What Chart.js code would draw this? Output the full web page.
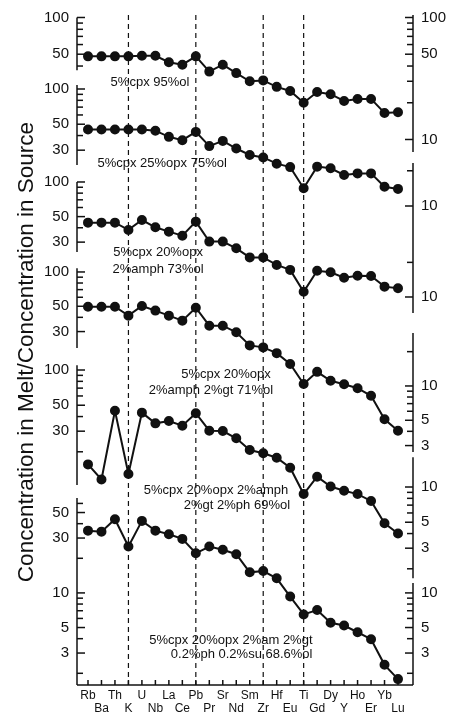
<!DOCTYPE html>
<html>
<head>
<meta charset="utf-8">
<script src="https://cdn.jsdelivr.net/npm/chart.js@4.4.0/dist/chart.umd.min.js"></script>
<style>
    html, body { margin: 0; padding: 0; background: #fff; overflow: hidden; }
    #wrap { width: 449px; height: 712px; position: relative; }
</style>
</head>
<body>
<div id="wrap"><canvas id="spider"></canvas></div>
<script>
/* categories (element order on the x axis) */
var elements = ['Rb', 'Ba', 'Th', 'K', 'U', 'Nb', 'La', 'Ce', 'Pb', 'Pr', 'Sr', 'Nd',
                'Sm', 'Zr', 'Hf', 'Eu', 'Ti', 'Gd', 'Dy', 'Y', 'Ho', 'Er', 'Yb', 'Lu'];
var dashedAt = ['K', 'Pb', 'Zr', 'Ti'];

/* melt / source ratios, one array per source mineralogy (top to bottom) */
var meltOl95  = [48, 48, 48, 48, 48.5, 48.5, 43, 41, 48, 36, 41, 35, 30, 30.5, 27, 25, 20, 24.5, 23.5, 20.7, 21.5, 21.5, 16.5, 16.7];
var meltOpx25 = [45, 45, 45, 45, 45, 44, 39, 36.5, 43, 32.5, 36, 31, 27.3, 26, 23, 21.5, 14.2, 21.7, 21, 18.4, 19, 19, 14.6, 14];
var meltAmph  = [44.3, 44.3, 44.3, 38.3, 46.7, 40.4, 37, 34.1, 45.2, 30.3, 30.3, 26.5, 22.1, 22.1, 19, 17.2, 11.1, 16.9, 16.4, 14.7, 15.3, 15.2, 12.3, 11.9];
var meltGt    = [49.5, 49.5, 49.5, 41.4, 50.3, 45.8, 41.4, 37.4, 48.6, 33.8, 33.8, 29.6, 22.7, 21.8, 19.4, 15.6, 10.4, 13.3, 11.1, 10.35, 9.55, 8.2, 5.1, 4.05];
var meltPh    = [15.6, 11.6, 44.9, 12.9, 43.2, 35, 36.6, 33.4, 42.7, 30.3, 30.1, 26.1, 20.7, 19.4, 17.8, 14.6, 8.7, 12.25, 10.1, 9.3, 8.7, 7.6, 4.9, 4.0];
var meltSu    = [34.8, 34.1, 43.7, 25.3, 42.3, 34.8, 32.4, 29.5, 22.1, 25.3, 23.7, 21.7, 15.1, 15.5, 13.4, 9.3, 6.5, 7.1, 5.5, 5.2, 4.55, 3.96, 2.37, 1.78];

var series = [meltOl95, meltOpx25, meltAmph, meltGt, meltPh, meltSu];

/* each curve has its own log axis: value at the top of the plot and pixels per decade */
var panelTop = [104.8, 429, 2832, 17950, 108200, 1.06e6];
var panelPxPerDecade = [122, 117, 115, 114, 117, 115];

/* broken axis pieces: value range, tick values and labelled ticks */
var leftSegments = [
    { series: 0, from: 100, to: 37, ticks: [100, 90, 80, 70, 60, 50, 40], labels: [100, 50] },
    { series: 1, from: 108, to: 22.4, ticks: [100, 90, 80, 70, 60, 50, 40, 30], labels: [100, 50, 30] },
    { series: 2, from: 100, to: 24.6, ticks: [100, 90, 80, 70, 60, 50, 40, 30], labels: [100, 50, 30] },
    { series: 3, from: 108, to: 21.5, ticks: [100, 90, 80, 70, 60, 50, 40, 30], labels: [100, 50, 30] },
    { series: 4, from: 110, to: 10.4, ticks: [100, 90, 80, 70, 60, 50, 40, 30, 20], labels: [100, 50, 30] },
    { series: 5, from: 67, to: 1.58, ticks: [60, 50, 40, 30, 20, 10, 9, 8, 7, 6, 5, 4, 3, 2], labels: [50, 30, 10, 5, 3] }
];
var rightSegments = [
    { series: 0, from: 104.8, to: 7.9, ticks: [100, 90, 80, 70, 60, 50, 40, 30, 20, 10], labels: [100, 50, 10] },
    { series: 1, from: 23.3, to: 3.81, ticks: [20, 10], labels: [10] },
    { series: 2, from: 23.2, to: 7.26, ticks: [20, 10], labels: [10] },
    { series: 3, from: 29.2, to: 2.63, ticks: [20, 10, 9, 8, 7, 6, 5, 4, 3], labels: [10, 5, 3] },
    { series: 4, from: 18, to: 1.66, ticks: [10, 9, 8, 7, 6, 5, 4, 3, 2], labels: [10, 5, 3] },
    { series: 5, from: 12.2, to: 1.58, ticks: [10, 9, 8, 7, 6, 5, 4, 3, 2], labels: [10, 5, 3] }
];

/* curve captions, anchored at (element index, value on that curve's axis) */
var notes = [
    { series: 0, text: '5%cpx 95%ol', at: 4.6, value: 29.6 },
    { series: 1, text: '5%cpx 25%opx 75%ol', at: 5.5, value: 23.3 },
    { series: 2, text: '5%cpx 20%opx', at: 5.2, value: 24.6 },
    { series: 2, text: '2%amph 73%ol', at: 5.2, value: 17.5 },
    { series: 3, text: '5%cpx 20%opx', at: 10.24, value: 12.5 },
    { series: 3, text: '2%amph 2%gt 71%ol', at: 9.12, value: 9.2 },
    { series: 4, text: '5%cpx 20%opx 2%amph', at: 9.5, value: 9.4 },
    { series: 4, text: '2%gt 2%ph 69%ol', at: 11.05, value: 7.0 },
    { series: 5, text: '5%cpx 20%opx 2%am 2%gt', at: 10.6, value: 3.83 },
    { series: 5, text: '0.2%ph 0.2%su 68.6%ol', at: 11.4, value: 2.89 }
];

var yTitle = 'Concentration in Melt/Concentration in Source';

(function () {
    'use strict';

    var INK = '#111';
    var FONT = '"Liberation Sans", Arial, Helvetica, sans-serif';
    var PLOT_TOP = 15, X_AXIS_H = 27;
    var plotH = 712 - X_AXIS_H - PLOT_TOP;

    function axisId(i) { return 'y' + i; }

    function buildScales() {
        var scales = {
            x: {
                type: 'category',
                offset: false,
                grid: { display: false, drawTicks: false },
                border: { display: false },
                ticks: {
                    autoSkip: false, maxRotation: 0, minRotation: 0, padding: 4,
                    color: INK, font: { family: FONT, size: 12, lineHeight: 1.1 }
                },
                afterFit: function (scale) { scale.height = X_AXIS_H; }
            }
        };
        series.forEach(function (s, i) {
            scales[axisId(i)] = {
                type: 'logarithmic', axis: 'y', display: false, bounds: 'data',
                max: panelTop[i],
                min: panelTop[i] / Math.pow(10, plotH / panelPxPerDecade[i])
            };
        });
        return scales;
    }

    function drawSegment(ctx, scale, xLine, dir, seg) {
        var yTop = scale.getPixelForValue(seg.from);
        var yBot = scale.getPixelForValue(seg.to);
        ctx.beginPath();
        ctx.moveTo(xLine, yTop);
        ctx.lineTo(xLine, yBot);
        ctx.stroke();
        seg.ticks.forEach(function (v) {
            var y = scale.getPixelForValue(v);
            var len = seg.labels.indexOf(v) >= 0 ? 8 : 6;
            ctx.beginPath();
            ctx.moveTo(xLine, y);
            ctx.lineTo(xLine + dir * len, y);
            ctx.stroke();
        });
        ctx.textAlign = dir > 0 ? 'right' : 'left';
        seg.labels.forEach(function (v) {
            ctx.fillText(String(v), xLine - dir * 8, scale.getPixelForValue(v));
        });
    }

    var spiderFrame = {
        id: 'spiderFrame',
        beforeDatasetsDraw: function (chart) {
            var ctx = chart.ctx, area = chart.chartArea, x = chart.scales.x;
            ctx.save();
            ctx.strokeStyle = INK;
            ctx.lineWidth = 1.2;
            ctx.setLineDash([5, 4]);
            dashedAt.forEach(function (el) {
                var px = x.getPixelForValue(elements.indexOf(el));
                ctx.beginPath();
                ctx.moveTo(px, area.top);
                ctx.lineTo(px, area.bottom);
                ctx.stroke();
            });
            ctx.restore();
        },
        afterDatasetsDraw: function (chart) {
            var ctx = chart.ctx, area = chart.chartArea, x = chart.scales.x;
            var leftX = area.left - 11, rightX = area.right + 15;
            ctx.save();
            ctx.strokeStyle = INK;
            ctx.fillStyle = INK;
            ctx.lineWidth = 1.5;
            ctx.font = '15px ' + FONT;
            ctx.textBaseline = 'middle';

            leftSegments.forEach(function (seg) {
                drawSegment(ctx, chart.scales[axisId(seg.series)], leftX, 1, seg);
            });
            rightSegments.forEach(function (seg) {
                drawSegment(ctx, chart.scales[axisId(seg.series)], rightX, -1, seg);
            });

            // bottom axis with inward ticks
            ctx.beginPath();
            ctx.moveTo(leftX, area.bottom);
            ctx.lineTo(rightX, area.bottom);
            ctx.stroke();
            elements.forEach(function (el, i) {
                var px = x.getPixelForValue(i);
                ctx.beginPath();
                ctx.moveTo(px, area.bottom);
                ctx.lineTo(px, area.bottom - 5);
                ctx.stroke();
            });

            // captions
            ctx.font = '13px ' + FONT;
            ctx.textAlign = 'center';
            notes.forEach(function (n) {
                ctx.fillText(n.text, x.getPixelForValue(n.at),
                    chart.scales[axisId(n.series)].getPixelForValue(n.value));
            });

            // y title
            ctx.font = '22.5px ' + FONT;
            ctx.textBaseline = 'alphabetic';
            ctx.translate(33, 352);
            ctx.rotate(-Math.PI / 2);
            ctx.fillText(yTitle, 0, 0);
            ctx.restore();
        }
    };

    function init() {
        var datasets = series.map(function (s, i) {
            return {
                data: s,
                yAxisID: axisId(i),
                borderColor: INK,
                borderWidth: 2,
                backgroundColor: INK,
                pointBackgroundColor: INK,
                pointBorderColor: INK,
                pointRadius: 4,
                tension: 0,
                fill: false
            };
        });

        new Chart(document.getElementById('spider'), {
            type: 'line',
            data: {
                labels: elements.map(function (el, i) { return i % 2 ? ['', el] : [el, '']; }),
                datasets: datasets
            },
            options: {
                responsive: true,
                maintainAspectRatio: false,
                animation: false,
                layout: { padding: { left: 88, right: 51, top: PLOT_TOP, bottom: 0 } },
                plugins: { legend: { display: false }, tooltip: { enabled: false } },
                scales: buildScales()
            },
            plugins: [spiderFrame]
        });
    }

    if (document.readyState === 'loading') {
        document.addEventListener('DOMContentLoaded', init);
    } else {
        init();
    }
})();
</script>
</body>
</html>
